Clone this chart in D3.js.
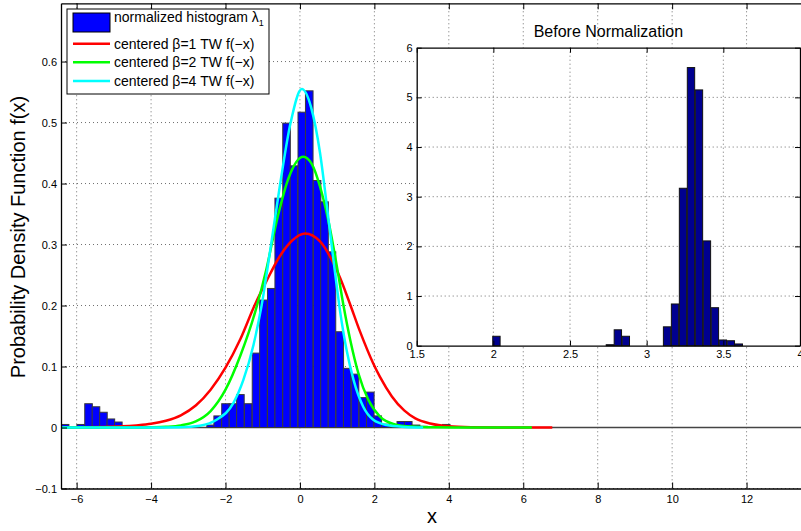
<!DOCTYPE html>
<html><head><meta charset="utf-8">
<script src="https://cdn.jsdelivr.net/npm/d3@7"></script>
<style>
body{margin:0;background:#fff;}
svg{display:block;font-family:"Liberation Sans",Arial,Helvetica,sans-serif;}
</style></head>
<body><svg id="chart" width="801" height="531"></svg>
<script>
// ---------- main histogram (normalized) ----------
const binCenters = [-6.31,-5.89,-5.68,-5.48,-5.28,-5.08,-4.88,
  -2.40,-2.21,-2.00,-1.80,-1.60,-1.39,-1.18,-0.98,-0.77,-0.57,-0.36,-0.16,0.05,0.25,0.46,0.66,0.86,1.07,1.27,1.48,1.69,1.89,2.09,2.30,2.50,2.71,2.91,3.12,3.32,3.93];
const binValues = [0.005,0.005,0.039,0.034,0.025,0.014,0.009,
  0.004,0.019,0.039,0.039,0.054,0.039,0.122,0.209,0.228,0.376,0.499,0.429,0.517,0.552,0.405,0.370,0.288,0.157,0.097,0.0875,0.049,0.058,0.019,0.0055,0.004,0.0098,0.0098,0.004,0.002,0.005];
const binWidth = 0.204;

// ---------- centered TW densities f(-x) ----------
const tw1X = [-6.42,-5.8,-5.3,-4.8,-4.4,-4.0,-3.6,-3.2,-2.8,-2.4,-2.0,-1.6,-1.22,-0.9,-0.55,-0.2,0.14,0.54,0.81,1.08,1.33,1.61,1.97,2.15,2.47,2.8,3.1,3.5,4.0,4.6,5.3,6.0,6.78];
const tw1Y = [0.0001,0.0004,0.0009,0.0019,0.0035,0.006,0.011,0.020,0.036,0.062,0.098,0.145,0.200,0.240,0.280,0.307,0.318,0.305,0.280,0.245,0.205,0.158,0.105,0.083,0.051,0.028,0.015,0.0065,0.002,0.0006,0.0002,0.0001,0];
const tw2X = [-6.42,-4.4,-4.0,-3.6,-3.2,-2.8,-2.4,-2.0,-1.6,-1.2,-0.9,-0.6,-0.3,0.09,0.32,0.54,0.76,0.99,1.17,1.35,1.57,1.84,2.15,2.51,3.0,3.6,4.5,6.23];
const tw2Y = [0,0.0001,0.0004,0.0012,0.0035,0.010,0.027,0.062,0.118,0.190,0.260,0.345,0.410,0.444,0.432,0.395,0.340,0.265,0.200,0.144,0.089,0.045,0.018,0.006,0.0015,0.0003,0,0];
const tw4X = [-6.42,-4.0,-3.2,-2.69,-2.24,-1.79,-1.52,-1.25,-1.03,-0.8,-0.53,-0.25,0.05,0.3,0.54,0.72,0.90,1.08,1.26,1.44,1.70,1.97,2.33,2.8,3.31];
const tw4Y = [0,0,0.0005,0.003,0.0126,0.040,0.078,0.135,0.200,0.290,0.400,0.500,0.555,0.525,0.450,0.365,0.275,0.190,0.125,0.078,0.034,0.0126,0.004,0.001,0];

const xTicks = [-6,-4,-2,0,2,4,6,8,10,12];
const xTickLabels = ["\u22126","\u22124","\u22122","0","2","4","6","8","10","12"];
const yTicks = [-0.1,0,0.1,0.2,0.3,0.4,0.5,0.6];
const yTickLabels = ["\u22120.1","0","0.1","0.2","0.3","0.4","0.5","0.6"];

const legendLabels = ["centered \u03b2=1 TW f(\u2212x)","centered \u03b2=2 TW f(\u2212x)","centered \u03b2=4 TW f(\u2212x)"];
const curveColors = ["#ff0000","#00ff00","#00ffff"];

// ---------- inset: before normalization ----------
const insetCenters = [2.02,2.76,2.812,2.864,3.133,3.185,3.237,3.289,3.341,3.393,3.445,3.497,3.549,3.601];
const insetValues = [0.19,0.02,0.32,0.19,0.38,0.84,3.17,5.60,5.15,2.11,0.765,0.115,0.10,0.035];
const insetBinWidth = 0.048;
const insetXTicks = [1.5,2,2.5,3,3.5,4];
const insetXTickLabels = ["1.5","2","2.5","3","3.5","4"];
const insetYTicks = [0,1,2,3,4,5,6];

const svg = d3.select("#chart");

// ===== main axes =====
const M = {left:61, top:3.3, right:802.4, bottom:488.5};
const x = d3.scaleLinear().domain([-6.42,13.5]).range([M.left,M.right]);
const y = d3.scaleLinear().domain([-0.1,0.6955]).range([M.bottom,M.top]);

const main = svg.append("g");
main.append("defs").append("clipPath").attr("id","mclip")
  .append("rect").attr("x",M.left).attr("y",M.top).attr("width",M.right-M.left).attr("height",M.bottom-M.top);

// grid
const grid = main.append("g").attr("stroke","#6f6f6f").attr("stroke-width",1).attr("stroke-dasharray","1,3");
xTicks.forEach(t=>grid.append("line").attr("x1",x(t)).attr("x2",x(t)).attr("y1",M.top).attr("y2",M.bottom));
yTicks.forEach(t=>grid.append("line").attr("x1",M.left).attr("x2",M.right).attr("y1",y(t)).attr("y2",y(t)));

const plot = main.append("g").attr("clip-path","url(#mclip)");
// zero baseline of histogram
plot.append("line").attr("x1",M.left).attr("x2",M.right).attr("y1",y(0)).attr("y2",y(0))
  .attr("stroke","#444").attr("stroke-width",1.5);
// bars
plot.selectAll("rect.bar").data(binCenters).join("rect").attr("class","bar")
  .attr("x",(d)=>x(d-binWidth/2))
  .attr("width",(d)=>x(d+binWidth/2)-x(d-binWidth/2))
  .attr("y",(d,i)=>y(binValues[i]))
  .attr("height",(d,i)=>y(0)-y(binValues[i]))
  .attr("fill","#0000ff").attr("stroke","#3a3a3a").attr("stroke-width",1);

// curves
const line = d3.line().x(d=>x(d[0])).y(d=>y(d[1])).curve(d3.curveMonotoneX);
[[tw1X,tw1Y],[tw2X,tw2Y],[tw4X,tw4Y]].forEach((s,k)=>{
  plot.append("path").datum(s[0].map((v,i)=>[v,s[1][i]]))
    .attr("d",line).attr("fill","none").attr("stroke",curveColors[k]).attr("stroke-width",2.5);
});

// axes
const axB = d3.axisBottom(x).tickValues(xTicks).tickFormat((d,i)=>xTickLabels[i]).tickSizeInner(-6).tickSizeOuter(0).tickPadding(7);
const axT = d3.axisTop(x).tickValues(xTicks).tickFormat("").tickSizeInner(-6).tickSizeOuter(0);
const axL = d3.axisLeft(y).tickValues(yTicks).tickFormat((d,i)=>yTickLabels[i]).tickSizeInner(-6).tickSizeOuter(0).tickPadding(4);
const gB = main.append("g").attr("transform",`translate(0,${M.bottom})`).call(axB);
const gT = main.append("g").attr("transform",`translate(0,${M.top})`).call(axT);
const gL = main.append("g").attr("transform",`translate(${M.left},0)`).call(axL);
[gB,gT,gL].forEach(g=>{
  g.select(".domain").attr("stroke","#000").attr("stroke-width",1.3);
  g.selectAll(".tick line").attr("stroke","#000").attr("stroke-width",1);
  g.selectAll(".tick text").attr("fill","#000").style("font-size","11px").style("font-family","Liberation Sans, Arial, sans-serif");
});

// axis labels
main.append("text").attr("x",432).attr("y",523).attr("text-anchor","middle")
  .style("font-size","20px").text("x");
main.append("text").attr("transform","translate(25,237) rotate(-90)").attr("text-anchor","middle")
  .style("font-size","20px").text("Probability Density Function f(x)");

// legend
const lg = main.append("g");
lg.append("rect").attr("x",67).attr("y",9).attr("width",202).attr("height",85)
  .attr("fill","#fff").attr("stroke","#000").attr("stroke-width",1);
lg.append("rect").attr("x",73).attr("y",13).attr("width",37).attr("height",19)
  .attr("fill","#0000ff").attr("stroke","#000").attr("stroke-width",1);
const t0 = lg.append("text").attr("x",114).attr("y",21.5).style("font-size","14px");
t0.append("tspan").text("normalized histogram \u03bb");
t0.append("tspan").attr("dy",4).style("font-size","9px").text("1");
const legY = [43.7,62.3,81];
legendLabels.forEach((lab,k)=>{
  lg.append("line").attr("x1",73).attr("x2",110).attr("y1",legY[k]).attr("y2",legY[k])
    .attr("stroke",curveColors[k]).attr("stroke-width",2.5);
  lg.append("text").attr("x",114).attr("y",legY[k]+5).style("font-size","14px").text(lab);
});

// ===== inset =====
const I = {left:416.7, top:47.7, right:800, bottom:345.7};
const ix = d3.scaleLinear().domain([1.5,4]).range([I.left,I.right]);
const iy = d3.scaleLinear().domain([0,6]).range([I.bottom,I.top]);
const ins = svg.append("g");
ins.append("rect").attr("x",I.left).attr("y",I.top).attr("width",I.right-I.left).attr("height",I.bottom-I.top).attr("fill","#fff");
const ig = ins.append("g").attr("stroke","#6f6f6f").attr("stroke-width",1).attr("stroke-dasharray","1,3");
insetXTicks.slice(1,-1).forEach(t=>ig.append("line").attr("x1",ix(t)).attr("x2",ix(t)).attr("y1",I.top).attr("y2",I.bottom));
insetYTicks.slice(1,-1).forEach(t=>ig.append("line").attr("x1",I.left).attr("x2",I.right).attr("y1",iy(t)).attr("y2",iy(t)));
ins.selectAll("rect.ibar").data(insetCenters).join("rect").attr("class","ibar")
  .attr("x",d=>ix(d-insetBinWidth/2))
  .attr("width",d=>ix(d+insetBinWidth/2)-ix(d-insetBinWidth/2))
  .attr("y",(d,i)=>iy(insetValues[i]))
  .attr("height",(d,i)=>iy(0)-iy(insetValues[i]))
  .attr("fill","#00008f").attr("stroke","#111").attr("stroke-width",1);
const iaB = d3.axisBottom(ix).tickValues(insetXTicks).tickFormat((d,i)=>insetXTickLabels[i]).tickSizeInner(-5).tickSizeOuter(0).tickPadding(5);
const iaT = d3.axisTop(ix).tickValues(insetXTicks).tickFormat("").tickSizeInner(-5).tickSizeOuter(0);
const iaL = d3.axisLeft(iy).tickValues(insetYTicks).tickFormat(d3.format("d")).tickSizeInner(-5).tickSizeOuter(0).tickPadding(4);
const iaR = d3.axisRight(iy).tickValues(insetYTicks).tickFormat("").tickSizeInner(-5).tickSizeOuter(0);
const igB = ins.append("g").attr("transform",`translate(0,${I.bottom})`).call(iaB);
const igT = ins.append("g").attr("transform",`translate(0,${I.top})`).call(iaT);
const igL = ins.append("g").attr("transform",`translate(${I.left},0)`).call(iaL);
const igR = ins.append("g").attr("transform",`translate(${I.right},0)`).call(iaR);
[igB,igT,igL,igR].forEach(g=>{
  g.select(".domain").attr("stroke","#000").attr("stroke-width",1.3);
  g.selectAll(".tick line").attr("stroke","#000");
  g.selectAll(".tick text").attr("fill","#000").style("font-size","11px").style("font-family","Liberation Sans, Arial, sans-serif");
});
ins.append("text").attr("x",(I.left+I.right)/2).attr("y",37).attr("text-anchor","middle")
  .style("font-size","16px").text("Before Normalization");
</script></body></html>
